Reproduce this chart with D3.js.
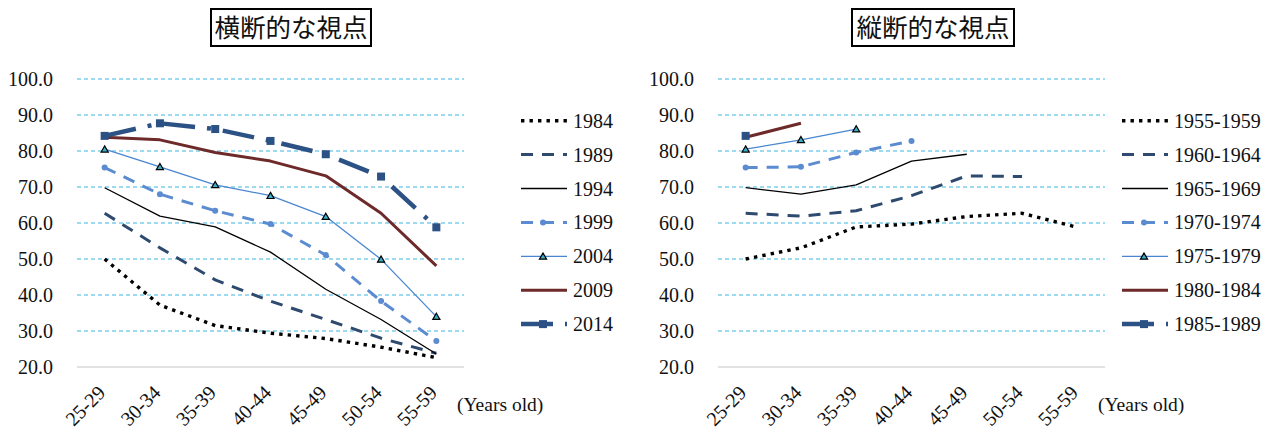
<!DOCTYPE html>
<html>
<head>
<meta charset="utf-8">
<script src="https://cdn.jsdelivr.net/npm/d3@7"></script>
<style>
  body { margin: 0; background: #fff; }
  svg { display: block; }
</style>
</head>
<body>
<svg id="chart" width="1275" height="429"></svg>
<script>
// Age groups on the x axis and y tick values
const ageGroups = ["25-29", "30-34", "35-39", "40-44", "45-49", "50-54", "55-59"];
const yTickValues = [20, 30, 40, 50, 60, 70, 80, 90, 100];

// Cross-sectional view: one line per survey year
const surveyYears = ["1984", "1989", "1994", "1999", "2004", "2009", "2014"];
const rate1984 = [50.0, 37.2, 31.5, 29.4, 27.9, 25.5, 22.6];
const rate1989 = [62.7, 53.1, 44.2, 38.3, 33.2, 28.0, 23.8];
const rate1994 = [69.8, 61.9, 58.9, 51.9, 41.6, 33.2, 23.6];
const rate1999 = [75.4, 68.0, 63.4, 59.7, 51.1, 38.3, 27.2];
const rate2004 = [80.5, 75.6, 70.6, 67.6, 61.8, 49.9, 34.0];
const rate2009 = [83.8, 83.1, 79.6, 77.2, 73.1, 62.7, 48.1];
const rate2014 = [84.2, 87.7, 86.1, 82.8, 79.1, 72.9, 58.8];

// Longitudinal view: one line per birth cohort
const birthCohorts = ["1955-1959", "1960-1964", "1965-1969", "1970-1974", "1975-1979", "1980-1984", "1985-1989"];
const cohort1955 = [50.0, 53.1, 58.9, 59.7, 61.8, 62.7, 58.8];
const cohort1960 = [62.7, 61.9, 63.4, 67.6, 73.1, 72.9];
const cohort1965 = [69.8, 68.0, 70.6, 77.2, 79.1];
const cohort1970 = [75.4, 75.6, 79.6, 82.8];
const cohort1975 = [80.5, 83.1, 86.1];
const cohort1980 = [83.8, 87.7];
const cohort1985 = [84.2];

const crossSeries = [rate1984, rate1989, rate1994, rate1999, rate2004, rate2009, rate2014];
const cohortSeries = [cohort1955, cohort1960, cohort1965, cohort1970, cohort1975, cohort1980, cohort1985];

// Line styles shared by both panels (series i uses style i)
const lineStyles = [
  { color: "#000000", width: 3.4, dash: "3.4,5.1" },
  { color: "#2E4A6E", width: 3,   dash: "12,9" },
  { color: "#000000", width: 1.3, dash: null },
  { color: "#5B8BD0", width: 3,   dash: "12,9", marker: "circle" },
  { color: "#4A86D0", width: 1.3, dash: null, marker: "triangle" },
  { color: "#6E2A2A", width: 3,   dash: null },
  { color: "#2B5185", width: 4.5, dash: "32,12,4,12", marker: "square" }
];

const serif = "'Liberation Serif', 'Times New Roman', serif";
const svg = d3.select("#chart");
svg.append("rect").attr("width", 1275).attr("height", 429).attr("fill", "#fff");

const y = d3.scaleLinear().domain([20, 100]).range([367, 79]);

function drawMarker(g, type, cx, cy, st) {
  if (type === "circle") {
    g.append("circle").attr("cx", cx).attr("cy", cy).attr("r", 3)
      .attr("fill", st.color);
  } else if (type === "triangle") {
    g.append("path")
      .attr("d", d3.symbol().type(d3.symbolTriangle).size(22)())
      .attr("transform", `translate(${cx},${cy + 0.8})`)
      .attr("fill", "#3AB0C8").attr("stroke", "#000").attr("stroke-width", 1.2);
  } else if (type === "square") {
    g.append("rect").attr("x", cx - 4).attr("y", cy - 4)
      .attr("width", 8).attr("height", 8).attr("fill", st.color);
  }
}

function drawPanel(opt) {
  const x = d3.scaleBand().domain(ageGroups).range([opt.left, opt.right]);
  const cx = d => x(d) + x.bandwidth() / 2;
  const g = svg.append("g");

  // Title in a box
  g.append("rect")
    .attr("x", opt.titleX).attr("y", 9).attr("width", opt.titleW).attr("height", 37)
    .attr("fill", "none").attr("stroke", "#000").attr("stroke-width", 2);
  g.append("text")
    .attr("x", opt.titleX + opt.titleW / 2).attr("y", 28)
    .attr("dy", "0.36em")
    .attr("text-anchor", "middle")
    .attr("font-family", "'Noto Sans CJK JP', sans-serif")
    .attr("font-size", 25.5)
    .attr("fill", "#111")
    .text(opt.title);

  // Horizontal gridlines
  yTickValues.forEach(v => {
    const isBase = v === 20;
    g.append("line")
      .attr("x1", opt.left).attr("x2", opt.right)
      .attr("y1", y(v)).attr("y2", y(v))
      .attr("stroke", isBase ? "#D9D9D9" : "#3DB5E6")
      .attr("stroke-width", isBase ? 1.6 : 1.2)
      .attr("stroke-dasharray", isBase ? null : "4,3");
  });

  // Y axis labels
  const yAxis = d3.axisLeft(y).tickValues(yTickValues).tickFormat(d3.format(".1f")).tickSize(0).tickPadding(0);
  const ya = g.append("g").attr("transform", `translate(${opt.left - 24},0)`).call(yAxis)
    .attr("font-family", serif).attr("font-size", 20);
  ya.select(".domain").remove();
  ya.selectAll("text")
    .style("font-family", serif).attr("font-size", 20).attr("fill", "#111")
    .attr("dy", "0.34em");

  // X axis labels, rotated
  const xAxis = d3.axisBottom(x).tickSize(0).tickPadding(0);
  const xa = g.append("g").call(xAxis)
    .attr("font-family", serif).attr("font-size", 20);
  xa.select(".domain").remove();
  xa.selectAll(".tick").attr("transform", d => `translate(${cx(d) + 2},394)`);
  xa.selectAll("text")
    .style("font-family", serif).attr("font-size", 20).attr("fill", "#111")
    .attr("text-anchor", "end").attr("dy", 0).attr("y", 0)
    .attr("transform", "rotate(-45)");

  g.append("text")
    .attr("x", opt.right - 7).attr("y", 411)
    .style("font-family", serif).attr("font-size", 19.5).attr("fill", "#111")
    .text("(Years old)");

  // Series lines and markers
  const line = d3.line().x((d, i) => cx(ageGroups[i])).y(d => y(d));
  opt.series.forEach((vals, i) => {
    const st = lineStyles[i];
    if (vals.length > 1) {
      g.append("path")
        .attr("d", line(vals))
        .attr("fill", "none")
        .attr("stroke", st.color)
        .attr("stroke-width", st.width)
        .attr("stroke-dasharray", st.dash)
        .attr("stroke-linejoin", "round");
    }
    if (st.marker) {
      vals.forEach((v, j) => drawMarker(g, st.marker, cx(ageGroups[j]), y(v), st));
    }
  });

  // Legend
  opt.names.forEach((name, i) => {
    const st = lineStyles[i];
    const ly = 120.7 + i * 33.9;
    g.append("line")
      .attr("x1", opt.legendX).attr("x2", opt.legendX + 46)
      .attr("y1", ly).attr("y2", ly)
      .attr("stroke", st.color).attr("stroke-width", st.width)
      .attr("stroke-dasharray", st.dash);
    if (st.marker) drawMarker(g, st.marker, opt.legendX + 22, ly, st);
    g.append("text")
      .attr("x", opt.legendX + 52).attr("y", ly + 7)
      .style("font-family", serif).attr("font-size", 20).attr("fill", "#111")
      .text(name);
  });
}

drawPanel({
  left: 77, right: 464, title: "横断的な視点", titleX: 211, titleW: 160,
  series: crossSeries, names: surveyYears, legendX: 521
});
drawPanel({
  left: 718, right: 1105, title: "縦断的な視点", titleX: 852, titleW: 162,
  series: cohortSeries, names: birthCohorts, legendX: 1122
});
</script>
</body>
</html>
